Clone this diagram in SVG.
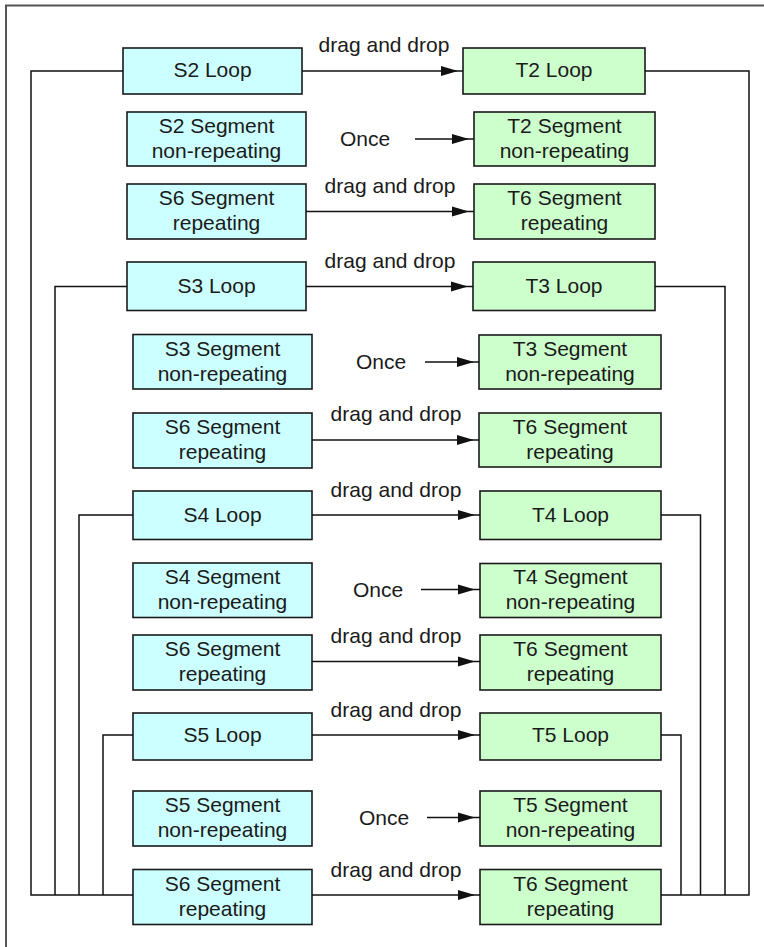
<svg xmlns="http://www.w3.org/2000/svg" width="764" height="947" viewBox="0 0 764 947">
  <defs>
    <marker id="arrow" viewBox="0 0 24 12" markerWidth="24" markerHeight="12" refX="24" refY="6" markerUnits="userSpaceOnUse" orient="auto">
      <path d="M2,1 L19,6 L2,11 Z" fill="#111"/>
    </marker>
    <style>
      .src { fill: #ccffff; stroke: #1a1a1a; stroke-width: 1.6; }
      .tgt { fill: #ccffcc; stroke: #1a1a1a; stroke-width: 1.6; }
      .frame { fill: none; stroke: #555; stroke-width: 2; }
      .wire { fill: none; stroke: #111; stroke-width: 1.5; }
      .flow { fill: none; stroke: #111; stroke-width: 1.5; marker-end: url(#arrow); }
      text { font-family: "Liberation Sans", Arial, sans-serif; font-size: 21px; fill: #1a1a1a; }
      .c { text-anchor: middle; }
    </style>
  </defs>

  <rect width="764" height="947" fill="#ffffff"/>
  <!-- outer frame, open to the right and bottom -->
  <path class="frame" d="M6,947 V5.5 H764"/>

  <!-- group 2 -->
  <g id="s2-loop"><rect class="src" x="123" y="48" width="179" height="46"/><text class="c" x="212.5" y="77">S2 Loop</text></g>
  <g id="s2-segment"><rect class="src" x="127" y="112" width="179" height="54"/><text class="c" x="216.5" y="133">S2 Segment</text><text class="c" x="216.5" y="158">non-repeating</text></g>
  <g id="s6-segment-a"><rect class="src" x="127" y="184" width="179" height="55"/><text class="c" x="216.5" y="205">S6 Segment</text><text class="c" x="216.5" y="230">repeating</text></g>
  <g id="t2-loop"><rect class="tgt" x="463" y="48" width="182" height="46"/><text class="c" x="554" y="77">T2 Loop</text></g>
  <g id="t2-segment"><rect class="tgt" x="474" y="112" width="181" height="54"/><text class="c" x="564.5" y="133">T2 Segment</text><text class="c" x="564.5" y="158">non-repeating</text></g>
  <g id="t6-segment-a"><rect class="tgt" x="474" y="184" width="181" height="55"/><text class="c" x="564.5" y="205">T6 Segment</text><text class="c" x="564.5" y="230">repeating</text></g>

  <!-- group 3 -->
  <g id="s3-loop"><rect class="src" x="127" y="262" width="179" height="48.5"/><text class="c" x="216.5" y="293">S3 Loop</text></g>
  <g id="s3-segment"><rect class="src" x="133" y="334.5" width="179" height="54.5"/><text class="c" x="222.5" y="355.5">S3 Segment</text><text class="c" x="222.5" y="380.5">non-repeating</text></g>
  <g id="s6-segment-b"><rect class="src" x="133" y="413" width="179" height="55"/><text class="c" x="222.5" y="434">S6 Segment</text><text class="c" x="222.5" y="459">repeating</text></g>
  <g id="t3-loop"><rect class="tgt" x="473" y="262" width="182" height="48.5"/><text class="c" x="564" y="293">T3 Loop</text></g>
  <g id="t3-segment"><rect class="tgt" x="479" y="335" width="182" height="54"/><text class="c" x="570" y="355.5">T3 Segment</text><text class="c" x="570" y="380.5">non-repeating</text></g>
  <g id="t6-segment-b"><rect class="tgt" x="479" y="413" width="182" height="54"/><text class="c" x="570" y="434">T6 Segment</text><text class="c" x="570" y="459">repeating</text></g>

  <!-- group 4 -->
  <g id="s4-loop"><rect class="src" x="133" y="491" width="179" height="48.5"/><text class="c" x="222.5" y="521.5">S4 Loop</text></g>
  <g id="s4-segment"><rect class="src" x="133" y="563" width="179" height="54.5"/><text class="c" x="222.5" y="583.5">S4 Segment</text><text class="c" x="222.5" y="608.5">non-repeating</text></g>
  <g id="s6-segment-c"><rect class="src" x="133" y="635" width="179" height="55"/><text class="c" x="222.5" y="656">S6 Segment</text><text class="c" x="222.5" y="681">repeating</text></g>
  <g id="t4-loop"><rect class="tgt" x="480" y="491" width="181" height="48.5"/><text class="c" x="570.5" y="521.5">T4 Loop</text></g>
  <g id="t4-segment"><rect class="tgt" x="480" y="563.5" width="181" height="54"/><text class="c" x="570.5" y="583.5">T4 Segment</text><text class="c" x="570.5" y="608.5">non-repeating</text></g>
  <g id="t6-segment-c"><rect class="tgt" x="480" y="635" width="181" height="55"/><text class="c" x="570.5" y="656">T6 Segment</text><text class="c" x="570.5" y="681">repeating</text></g>

  <!-- group 5 -->
  <g id="s5-loop"><rect class="src" x="133" y="713" width="179" height="47"/><text class="c" x="222.5" y="742">S5 Loop</text></g>
  <g id="s5-segment"><rect class="src" x="133" y="791" width="179" height="55"/><text class="c" x="222.5" y="812">S5 Segment</text><text class="c" x="222.5" y="837">non-repeating</text></g>
  <g id="s6-segment-d"><rect class="src" x="133" y="869.5" width="179" height="55"/><text class="c" x="222.5" y="890.5">S6 Segment</text><text class="c" x="222.5" y="915.5">repeating</text></g>
  <g id="t5-loop"><rect class="tgt" x="480" y="713" width="181" height="47"/><text class="c" x="570.5" y="742">T5 Loop</text></g>
  <g id="t5-segment"><rect class="tgt" x="480" y="791" width="181" height="55"/><text class="c" x="570.5" y="812">T5 Segment</text><text class="c" x="570.5" y="837">non-repeating</text></g>
  <g id="t6-segment-d"><rect class="tgt" x="480" y="869.5" width="181" height="55"/><text class="c" x="570.5" y="890.5">T6 Segment</text><text class="c" x="570.5" y="915.5">repeating</text></g>

  <g id="connectors">
    <!-- mapping arrows -->
    <path class="flow" d="M302,71 H463"/>
    <path class="flow" d="M415,139 H474"/>
    <path class="flow" d="M306,211.5 H474"/>
    <path class="flow" d="M306,286.5 H473"/>
    <path class="flow" d="M425,362 H479"/>
    <path class="flow" d="M312,440 H479"/>
    <path class="flow" d="M312,515 H480"/>
    <path class="flow" d="M421,589.5 H480"/>
    <path class="flow" d="M312,661.5 H480"/>
    <path class="flow" d="M312,735 H480"/>
    <path class="flow" d="M427,817.5 H480"/>
    <path class="flow" d="M312,895 H480"/>

    <!-- loop buses on the source side -->
    <path class="wire" d="M123,71 H31 V895 H133"/>
    <path class="wire" d="M127,286.5 H55 V895"/>
    <path class="wire" d="M133,515 H79 V895"/>
    <path class="wire" d="M133,735 H103 V895"/>
    <!-- loop buses on the target side -->
    <path class="wire" d="M645,71 H749 V895 H661"/>
    <path class="wire" d="M655,286.5 H725 V895"/>
    <path class="wire" d="M661,515 H700.5 V895"/>
    <path class="wire" d="M661,735 H681 V895"/>

    <!-- arrow labels -->
    <text class="c" x="384" y="52">drag and drop</text>
    <text class="c" x="365" y="146">Once</text>
    <text class="c" x="390" y="192.5">drag and drop</text>
    <text class="c" x="390" y="268">drag and drop</text>
    <text class="c" x="381" y="369">Once</text>
    <text class="c" x="396" y="421">drag and drop</text>
    <text class="c" x="396" y="496.5">drag and drop</text>
    <text class="c" x="378" y="596.5">Once</text>
    <text class="c" x="396" y="642.5">drag and drop</text>
    <text class="c" x="396" y="716.5">drag and drop</text>
    <text class="c" x="384" y="824.5">Once</text>
    <text class="c" x="396" y="876.5">drag and drop</text>
  </g>
</svg>
